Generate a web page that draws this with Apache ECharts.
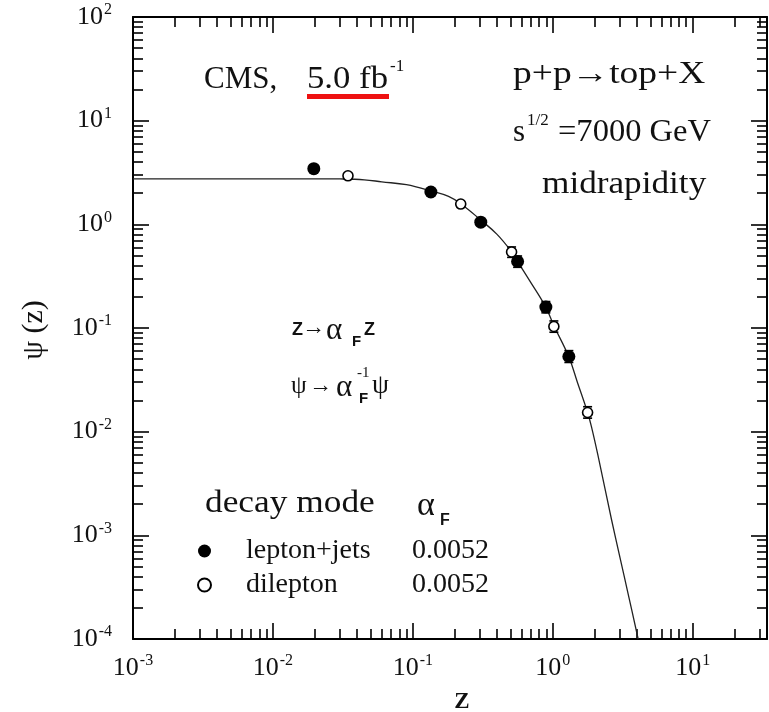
<!DOCTYPE html>
<html>
<head>
<meta charset="utf-8">
<script src="https://cdn.jsdelivr.net/npm/echarts@6/dist/echarts.min.js"></script>
<style>
  html, body { margin: 0; padding: 0; background: #fff; }
  #chart { width: 769px; height: 712px; }
</style>
</head>
<body>
<div id="chart"></div>
<script>
// Scaled top-quark spectrum psi(z) vs z, CMS 7 TeV, two decay modes.
const SERIF = '"Liberation Serif", "Times New Roman", serif';
const SANS = '"Liberation Sans", Arial, sans-serif';

// lepton+jets (filled circles)
const lepZ   = [0.0196, 0.1346, 0.306, 0.561, 0.893, 1.304];
const lepPsi = [3.44,   2.05,   1.05,  0.438, 0.159, 0.0531];
const lepLo  = [3.25,   1.93,   0.99,  0.385, 0.140, 0.0465];
const lepHi  = [3.65,   2.17,   1.11,  0.495, 0.180, 0.0605];

// dilepton (open circles)
const dilZ   = [0.0344, 0.220, 0.508, 1.019, 1.775];
const dilPsi = [2.94,   1.57,  0.541, 0.1035, 0.0153];
const dilLo  = [2.78,   1.48,  0.480, 0.091, 0.0135];
const dilHi  = [3.10,   1.66,  0.605, 0.117, 0.0174];

// fitted scaling curve
const fitZ   = [0.001, 0.003, 0.01, 0.02, 0.03, 0.045, 0.06, 0.09, 0.135, 0.18, 0.22, 0.306, 0.40, 0.51, 0.56, 0.68, 0.89, 1.02, 1.30, 1.50, 1.775, 1.90, 2.10, 2.64, 3.00, 3.50, 4.08];
const fitPsi = [2.75,  2.75,  2.75, 2.75, 2.74, 2.69,  2.57, 2.41, 2.10,  1.86, 1.58, 1.10,  0.80, 0.54, 0.44, 0.29, 0.16, 0.105, 0.053, 0.030, 0.0153, 0.0109, 0.0060, 0.00139, 0.00064, 0.000254, 0.0001];

const modeNames = ['lepton+jets', 'dilepton'];
const alphaF    = ['0.0052', '0.0052'];

// axis ranges and decade tick values
const xMin = 0.001, xMax = 34;
const yMin = 1e-4,  yMax = 100;
const xMajor = [0.001, 0.01, 0.1, 1, 10];
const yMajor = [1e-4, 1e-3, 1e-2, 1e-1, 1, 10, 100];

function minorTicks(majors, hi) {
  const out = [];
  majors.forEach(function (d) {
    for (let k = 2; k <= 9; k++) {
      const v = +(d * k).toPrecision(3);
      if (v < hi) out.push(v);
    }
  });
  return out;
}
const xMinor = minorTicks(xMajor, xMax);
const yMinor = minorTicks(yMajor.slice(0, -1), yMax);

function pairs(xs, ys) { return xs.map(function (x, i) { return [x, ys[i]]; }); }
function triples(xs, lo, hi) { return xs.map(function (x, i) { return [x, lo[i], hi[i]]; }); }

function powLabel(v) {
  const e = Math.round(Math.log10(v));
  return '{b|10}{e|' + e + '}';
}
const labelRich = {
  b: { fontFamily: SERIF, fontSize: 26, color: '#111', lineHeight: 30 },
  e: { fontFamily: SERIF, fontSize: 16, color: '#111', lineHeight: 30, verticalAlign: 'top', padding: [0, 0, 10, 1] }
};

const AX = { color: '#000', width: 2 };
const TK = { color: '#000', width: 1.6 };

function xAxisDef(pos, major, withLine, withLabel) {
  return {
    type: 'log', logBase: 10, min: xMin, max: xMax, position: pos,
    axisLine: { show: withLine, onZero: false, lineStyle: AX },
    axisTick: { show: true, inside: true, length: major ? 16 : 10, customValues: major ? xMajor : xMinor, lineStyle: TK },
    minorTick: { show: false },
    splitLine: { show: false },
    axisLabel: withLabel ? { show: true, customValues: xMajor, formatter: powLabel, rich: labelRich, margin: 14 } : { show: false }
  };
}
function yAxisDef(pos, major, withLine, withLabel) {
  return {
    type: 'log', logBase: 10, min: yMin, max: yMax, position: pos,
    axisLine: { show: withLine, onZero: false, lineStyle: AX },
    axisTick: { show: true, inside: true, length: major ? 16 : 10, customValues: major ? yMajor : yMinor, lineStyle: TK },
    minorTick: { show: false },
    splitLine: { show: false },
    axisLabel: withLabel ? { show: true, customValues: yMajor, formatter: powLabel, rich: labelRich, margin: 21 } : { show: false }
  };
}

function errorBar(params, api) {
  const x = api.value(0);
  const top = api.coord([x, api.value(2)]);
  const bot = api.coord([x, api.value(1)]);
  const w = 4.5;
  const st = { stroke: '#000', lineWidth: 1.6 };
  return {
    type: 'group',
    children: [
      { type: 'line', shape: { x1: top[0], y1: top[1], x2: bot[0], y2: bot[1] }, style: st },
      { type: 'line', shape: { x1: top[0] - w, y1: top[1], x2: top[0] + w, y2: top[1] }, style: st },
      { type: 'line', shape: { x1: bot[0] - w, y1: bot[1], x2: bot[0] + w, y2: bot[1] }, style: st }
    ]
  };
}

function txt(x, y, text, font, sx) {
  return {
    type: 'text', x: x, y: y, z: 50, scaleX: sx || 1,
    style: { text: text, font: font, fill: '#111', textAlign: 'left', textVerticalAlign: 'middle' }
  };
}

const chart = echarts.init(document.getElementById('chart'), null, { renderer: 'canvas' });

chart.setOption({
  animation: false,
  backgroundColor: '#fff',
  grid: { left: 133, top: 17, right: 2, bottom: 73, containLabel: false },
  xAxis: [
    xAxisDef('bottom', true, true, true),
    xAxisDef('bottom', false, false, false),
    xAxisDef('top', true, true, false),
    xAxisDef('top', false, false, false)
  ],
  yAxis: [
    yAxisDef('left', true, true, true),
    yAxisDef('left', false, false, false),
    yAxisDef('right', true, true, false),
    yAxisDef('right', false, false, false)
  ],
  legend: {
    orient: 'vertical', left: 192, top: 532,
    itemWidth: 13, itemHeight: 13, itemGap: 6,
    selectedMode: false,
    data: modeNames,
    formatter: function (name) {
      return '{n|' + name + '}{v|' + alphaF[modeNames.indexOf(name)] + '}';
    },
    textStyle: {
      rich: {
        n: { fontFamily: SERIF, fontSize: 28, color: '#111', width: 166, padding: [0, 0, 0, 30], lineHeight: 28 },
        v: { fontFamily: SERIF, fontSize: 28, color: '#111', lineHeight: 28 }
      }
    }
  },
  series: [
    {
      name: 'fit', type: 'line', data: pairs(fitZ, fitPsi),
      showSymbol: false, smooth: 0.4, z: 2,
      lineStyle: { color: '#222', width: 1.3 }
    },
    {
      type: 'custom', data: triples(lepZ, lepLo, lepHi), renderItem: errorBar,
      encode: { x: 0, y: [1, 2] }, z: 3
    },
    {
      type: 'custom', data: triples(dilZ, dilLo, dilHi), renderItem: errorBar,
      encode: { x: 0, y: [1, 2] }, z: 3
    },
    {
      name: 'lepton+jets', type: 'scatter', data: pairs(lepZ, lepPsi),
      symbol: 'circle', symbolSize: 13, z: 5,
      itemStyle: { color: '#000', opacity: 1 }
    },
    {
      name: 'dilepton', type: 'scatter', data: pairs(dilZ, dilPsi),
      symbol: 'circle', symbolSize: 10, z: 6,
      itemStyle: { color: '#fff', borderColor: '#000', borderWidth: 1.6, opacity: 1 }
    }
  ],
  graphic: [
    // axis titles
    { type: 'text', x: 462, y: 702, z: 50,
      style: { text: 'Z', font: 'bold 23px ' + SERIF, fill: '#111', textAlign: 'center', textVerticalAlign: 'middle' } },
    { type: 'text', x: 34, y: 330, rotation: Math.PI / 2, z: 50,
      style: { text: 'ψ (z)', font: '30px ' + SERIF, fill: '#111', textAlign: 'center', textVerticalAlign: 'middle' } },

    // experiment / luminosity
    txt(204, 80, 'CMS,', '31px ' + SERIF),
    txt(307, 80, '5.0 fb', '31px ' + SERIF, 1.12),
    txt(390, 67, '-1', '17px ' + SERIF),
    { type: 'rect', shape: { x: 307, y: 94, width: 82, height: 5 }, style: { fill: '#ee1111' }, z: 50 },

    // reaction and energy
    txt(513, 75, 'p+p→top+X', '31px ' + SERIF, 1.21),
    txt(513, 133, 's', '31px ' + SERIF),
    txt(527, 121, '1/2', '17px ' + SERIF),
    txt(558, 133, '=7000 GeV', '31px ' + SERIF, 1.05),
    txt(542, 185, 'midrapidity', '32px ' + SERIF, 1.1),

    // scaling relations
    txt(292, 330, 'Z', 'bold 18px ' + SANS),
    txt(302, 328, '→', '23px ' + SERIF),
    txt(326, 331, 'α', '31px ' + SERIF),
    txt(352, 342, 'F', 'bold 15px ' + SANS),
    txt(364, 330, 'Z', 'bold 18px ' + SANS),

    txt(291, 386, 'ψ', '25px ' + SERIF),
    txt(309, 386, '→', '23px ' + SERIF),
    txt(336, 388, 'α', '31px ' + SERIF),
    txt(357, 373, '-1', '15px ' + SERIF),
    txt(359, 399, 'F', 'bold 15px ' + SANS),
    txt(372, 386, 'ψ', '27px ' + SERIF),

    // legend header
    txt(205, 504, 'decay mode', '31px ' + SERIF, 1.14),
    txt(417, 506, 'α', '34px ' + SERIF),
    txt(440, 521, 'F', 'bold 16px ' + SANS)
  ]
});
</script>
</body>
</html>
